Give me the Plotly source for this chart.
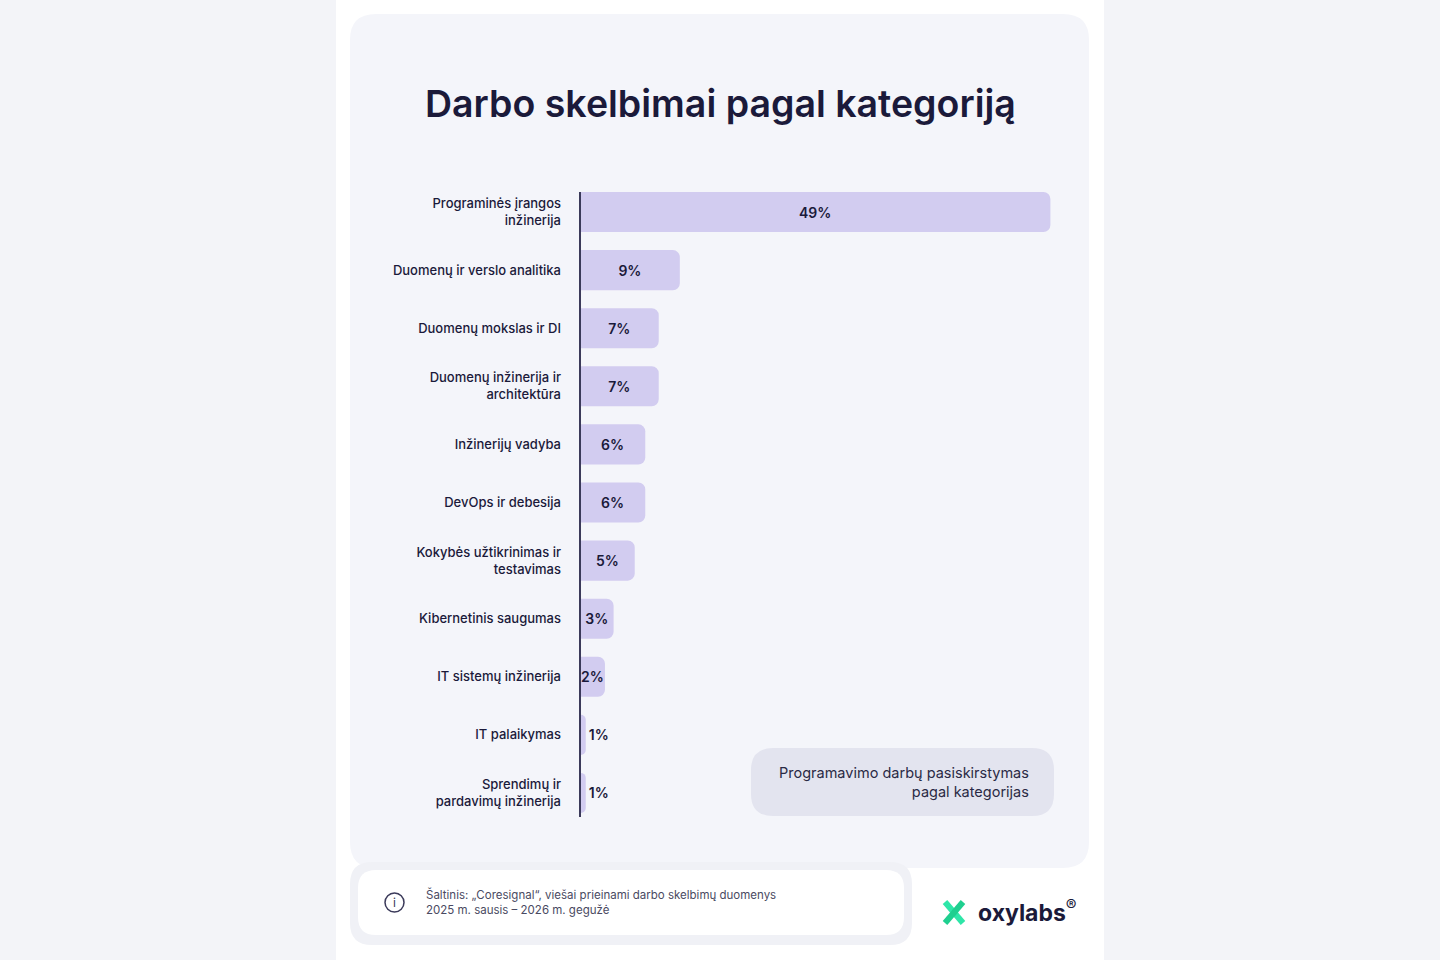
import plotly.graph_objects as go

categories = ["Programinės įrangos<br>inžinerija", "Duomenų ir verslo analitika", "Duomenų mokslas ir DI",
              "Duomenų inžinerija ir<br>architektūra", "Inžinerijų vadyba", "DevOps ir debesija",
              "Kokybės užtikrinimas ir<br>testavimas", "Kibernetinis saugumas", "IT sistemų inžinerija",
              "IT palaikymas", "Sprendimų ir<br>pardavimų inžinerija"]
values = [49, 10.4, 8.2, 8.2, 6.8, 6.8, 5.7, 3.5, 2.6, 0.6, 0.6]
labels = ["49%", "9%", "7%", "7%", "6%", "6%", "5%", "3%", "2%", "1%", "1%"]

W, H = 1440, 960
FONT = "Inter"
NAVY = "#1b1a3a"

def px(x): return x / W
def py(y): return 1 - y / H

def rrect(x0, y0, x1, y1, r, fill):
    X0, X1 = px(x0), px(x1)
    Y0, Y1 = py(y0), py(y1)
    rx, ry = r / W, r / H
    path = (f"M{X0+rx},{Y0} L{X1-rx},{Y0} Q{X1},{Y0} {X1},{Y0-ry} L{X1},{Y1+ry} Q{X1},{Y1} {X1-rx},{Y1} "
            f"L{X0+rx},{Y1} Q{X0},{Y1} {X0},{Y1+ry} L{X0},{Y0-ry} Q{X0},{Y0} {X0+rx},{Y0} Z")
    return dict(type="path", path=path, xref="paper", yref="paper", fillcolor=fill,
                line=dict(width=0), layer="below")

shapes = [
    dict(type="rect", xref="paper", yref="paper", x0=px(336), x1=px(1104), y0=0, y1=1,
         fillcolor="white", line=dict(width=0), layer="below"),
    rrect(350, 14, 1089, 868, 26, "#f4f5fa"),
    rrect(350, 862, 912, 945, 22, "#f0f1f6"),
    rrect(358, 870, 904, 935, 18, "#ffffff"),
    rrect(751, 748, 1054, 816, 22, "#e3e4ef"),
]
shapes.append(dict(type="line", xref="paper", yref="paper", x0=px(580), x1=px(580), y0=py(192), y1=py(817),
                   line=dict(color="#3b3a5a", width=2)))
shapes.append(dict(type="circle", xref="paper", yref="paper", x0=px(385), x1=px(404), y0=py(912), y1=py(893),
                   line=dict(color="#3b3a5a", width=1.5)))
shapes.append(dict(type="line", xref="paper", yref="paper", x0=px(945), x1=px(963), y0=py(902), y1=py(923),
                   line=dict(color="#2ee6a8", width=6)))
shapes.append(dict(type="line", xref="paper", yref="paper", x0=px(945), x1=px(963), y0=py(923), y1=py(902),
                   line=dict(color="#1fcf8f", width=6)))

textpos = ["inside" if v > 1.5 else "outside" for v in values]

fig = go.Figure(go.Bar(
    x=values, y=categories, orientation="h", text=labels, textposition=textpos,
    insidetextanchor="middle", textangle=0, constraintext="none",
    marker=dict(color="#d2ccf0", line=dict(width=0), cornerradius=7),
    textfont=dict(family=FONT, size=14, color=NAVY, weight=600),
    width=0.69, cliponaxis=False, hoverinfo="skip"))

def ann(text, x, y, **kw):
    d = dict(text=text, x=px(x), y=py(y), xref="paper", yref="paper", showarrow=False, yanchor="middle")
    d.update(kw)
    return d

annotations = [
    ann("Darbo skelbimai pagal kategoriją", 720, 103, font=dict(family=FONT, size=37.5, color=NAVY, weight=600)),
    ann("Programavimo darbų pasiskirstymas<br>pagal kategorijas", 1031, 782, xanchor="right", align="right",
        font=dict(family=FONT, size=14.5, color="#2a2a45")),
    ann("Šaltinis: „Coresignal“, viešai prieinami darbo skelbimų duomenys<br>2025 m. sausis – 2026 m. gegužė",
        424, 902, xanchor="left", align="left", font=dict(family=FONT, size=11.5, color="#4a4a62")),
    ann("i", 394.5, 902.5, xanchor="center", font=dict(family=FONT, size=12, color="#3b3a5a")),
    ann("<b>oxylabs</b><sup>®</sup>", 976, 911, xanchor="left",
        font=dict(family=FONT, size=23, color=NAVY)),
]

fig.update_layout(
    width=W, height=H, margin=dict(l=0, r=0, t=0, b=0),
    paper_bgcolor="#f3f4f8", plot_bgcolor="rgba(0,0,0,0)",
    shapes=shapes, annotations=annotations, showlegend=False,
    uniformtext=dict(minsize=14, mode="show"),
    xaxis=dict(domain=[px(580), px(1060)], range=[0, 50], visible=False, fixedrange=True),
    yaxis=dict(domain=[py(822), py(183)], autorange="reversed", showline=False, showgrid=False,
               ticks="", ticklabelstandoff=18, tickfont=dict(family=FONT, size=13, color=NAVY, weight=500),
               fixedrange=True),
    font=dict(family=FONT),
)
fig.write_html("out.html", config={"displayModeBar": False},
               post_script="document.body.style.margin='0';document.body.style.overflow='hidden';")
